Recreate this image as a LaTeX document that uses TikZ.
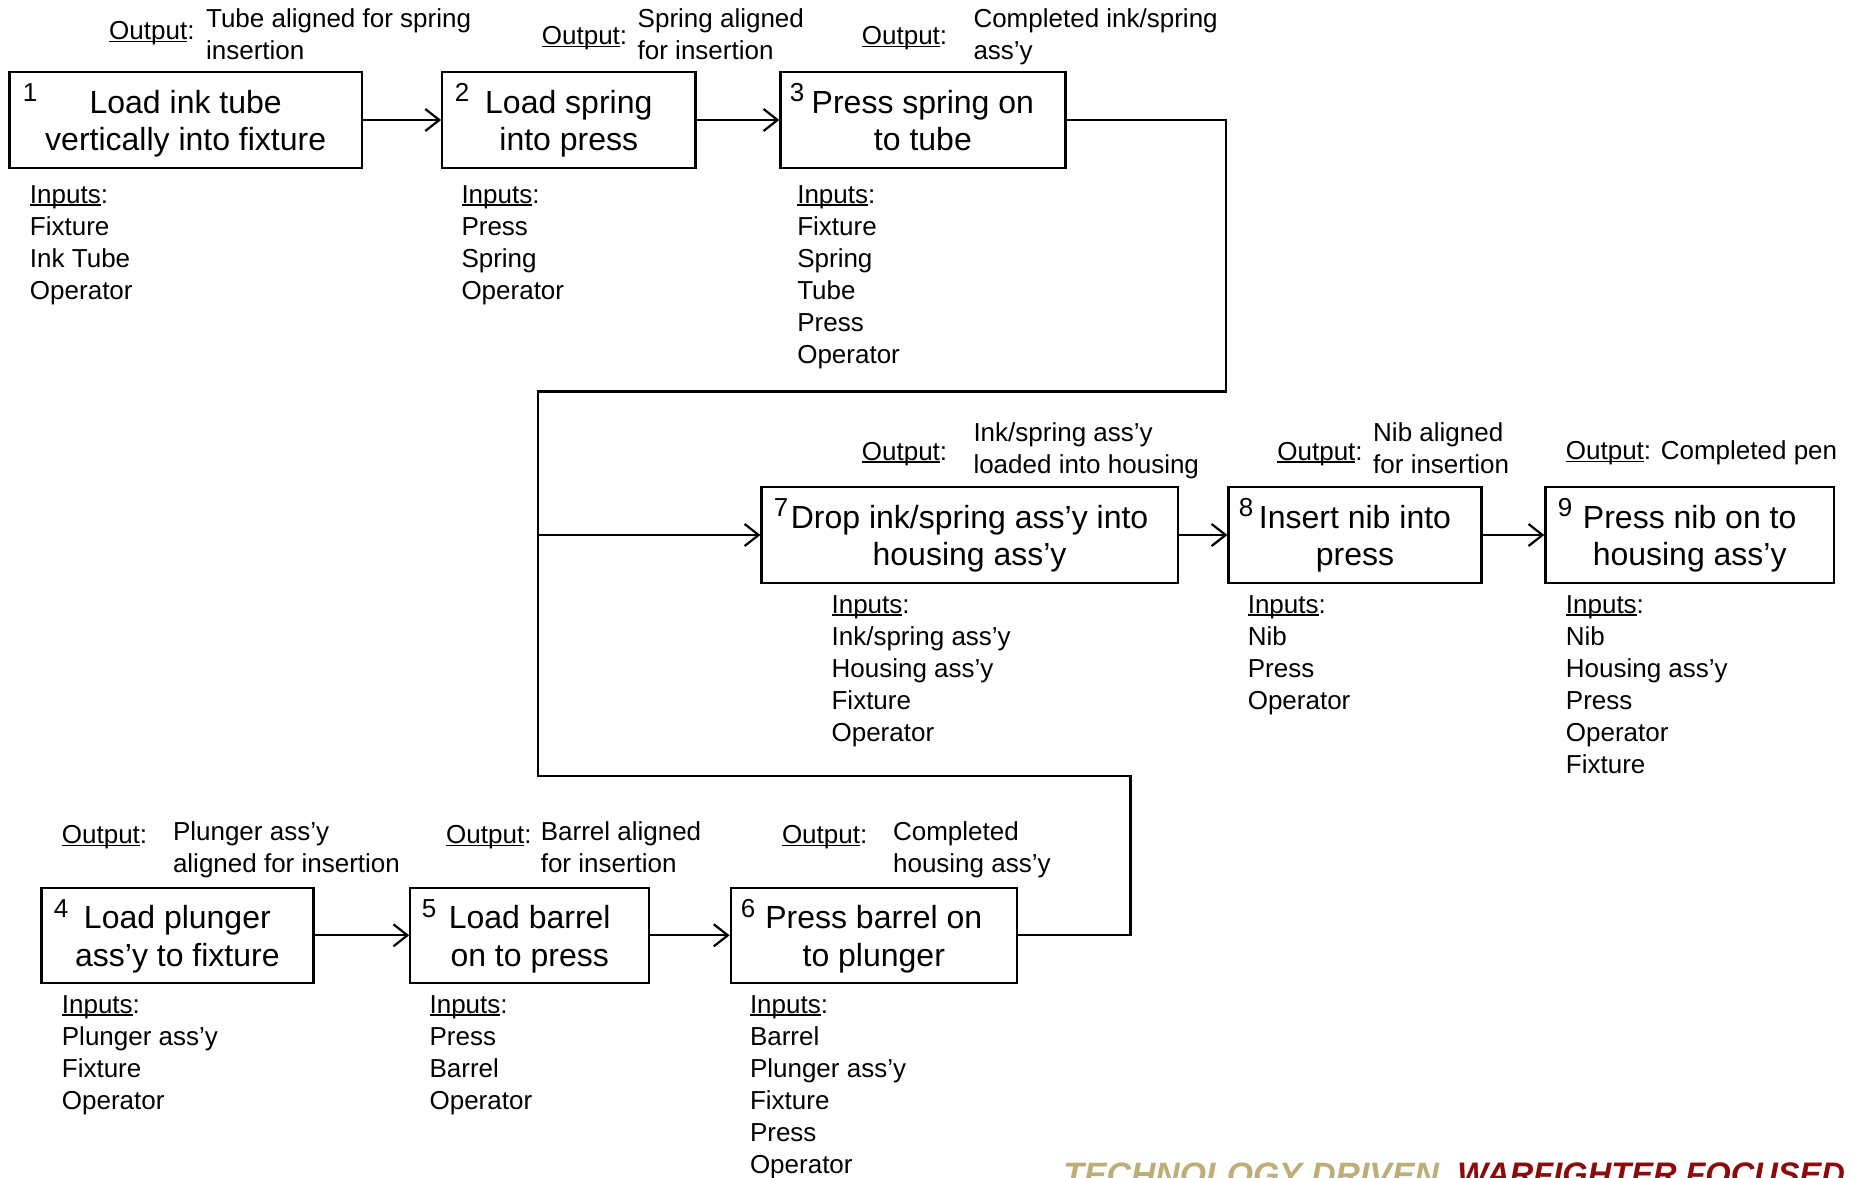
\documentclass[tikz,border=0pt]{standalone}
\usepackage{fontspec}
\setmainfont{Liberation Sans}
\usetikzlibrary{arrows.meta}
\definecolor{mottotan}{RGB}{189,174,120}
\definecolor{mottored}{RGB}{140,10,10}
% underline drawn close to the baseline
\newcommand\ulword[1]{\setbox0\hbox{#1}\rlap{\rule[-1.3pt]{\wd0}{0.7pt}}\box0}
% two centred lines with fixed line positions inside a step box
\newcommand\steptext[2]{\rule{0pt}{16.2pt}#1\\#2\rule[-4pt]{0pt}{4pt}}
\begin{document}
\begin{tikzpicture}[x=0.5pt,y=-0.5pt,
  stepbox/.style={draw, line width=1.1pt, minimum height=47.9pt, inner sep=0pt,
    align=center, font=\fontsize{16}{18.7}\selectfont},
  stepnum/.style={inner sep=0pt, font=\fontsize{13}{15}\selectfont},
  outlabel/.style={anchor=base west, inner sep=0pt, font=\fontsize{13}{16}\selectfont},
  outtext/.style={anchor=base west, inner sep=0pt, align=left, font=\fontsize{13}{16}\selectfont},
  inlist/.style={anchor=north west, inner sep=0pt, align=left, font=\fontsize{13}{16}\selectfont},
  flow/.style={line width=1.1pt},
  flowarrow/.style={line width=1.1pt, -{Straight Barb[length=7pt,width=11pt,line width=1.1pt]}},
]
\useasboundingbox (0,0) rectangle (1854,1178);
\clip (0,0) rectangle (1854,1178);
\fill[white] (0,0) rectangle (1854,1178);

% ---------- top row: steps 1-3 ----------
\node[stepbox, minimum width=176.2pt] (b1) at (185.7,120) {\steptext{Load ink tube}{vertically into fixture}};
\node[stepbox, minimum width=126.6pt] (b2) at (568.8,120) {\steptext{Load spring}{into press}};
\node[stepbox, minimum width=142.5pt] (b3) at (922.9,120) {\steptext{Press spring on}{to tube}};
\node[stepnum] (n1) at (30,92.5) {1};
\node[stepnum] (n2) at (462,92.5) {2};
\node[stepnum] (n3) at (797,92.5) {3};

% multi-line texts are placed by the baseline of their last line
\node[outlabel] (o1l) at (108.8,39.8) {\ulword{Output}:};
\node[outtext]  (o1t) at (205.7,59) {Tube aligned for spring\\insertion};
\node[outlabel] (o2l) at (541.5,44.5) {\ulword{Output}:};
\node[outtext]  (o2t) at (637.3,59) {Spring aligned\\for insertion};
\node[outlabel] (o3l) at (861.5,44.5) {\ulword{Output}:};
\node[outtext]  (o3t) at (973.1,59) {Completed ink/spring\\ass’y};

\node[inlist] (i1) at (29.6,185) {\ulword{Inputs}:\\Fixture\\Ink Tube\\Operator};
\node[inlist] (i2) at (461.1,185) {\ulword{Inputs}:\\Press\\Spring\\Operator};
\node[inlist] (i3) at (796.9,185) {\ulword{Inputs}:\\Fixture\\Spring\\Tube\\Press\\Operator};

% ---------- middle row: steps 7-9 ----------
\node[stepbox, minimum width=208.1pt] (b7) at (969.6,535) {\steptext{Drop ink/spring ass’y into}{housing ass’y}};
\node[stepbox, minimum width=126.5pt] (b8) at (1355,535) {\steptext{Insert nib into}{press}};
\node[stepbox, minimum width=144.3pt] (b9) at (1689.7,535) {\steptext{Press nib on to}{housing ass’y}};
\node[stepnum] (n7) at (781,507.5) {7};
\node[stepnum] (n8) at (1246,507.5) {8};
\node[stepnum] (n9) at (1565,507.5) {9};

\node[outlabel] (o7l) at (861.5,460) {\ulword{Output}:};
\node[outtext]  (o7t) at (973.1,473) {Ink/spring ass’y\\loaded into housing};
\node[outlabel] (o8l) at (1277,460) {\ulword{Output}:};
\node[outtext]  (o8t) at (1372.8,473) {Nib aligned\\for insertion};
\node[outlabel] (o9l) at (1565.5,459.5) {\ulword{Output}: Completed pen};

\node[inlist] (i7) at (831.2,595) {\ulword{Inputs}:\\Ink/spring ass’y\\Housing ass’y\\Fixture\\Operator};
\node[inlist] (i8) at (1247.4,595) {\ulword{Inputs}:\\Nib\\Press\\Operator};
\node[inlist] (i9) at (1565.5,595) {\ulword{Inputs}:\\Nib\\Housing ass’y\\Press\\Operator\\Fixture};

% ---------- bottom row: steps 4-6 ----------
\node[stepbox, minimum width=136pt, minimum height=47.3pt] (b4) at (177.4,935.3) {\steptext{Load plunger}{ass’y to fixture}};
\node[stepbox, minimum width=119.4pt, minimum height=47.3pt] (b5) at (529.7,935.3) {\steptext{Load barrel}{on to press}};
\node[stepbox, minimum width=143.1pt, minimum height=47.3pt] (b6) at (873.8,935.3) {\steptext{Press barrel on}{to plunger}};
\node[stepnum] (n4) at (61,908.5) {4};
\node[stepnum] (n5) at (429,908.5) {5};
\node[stepnum] (n6) at (748,908.5) {6};

\node[outlabel] (o4l) at (61.5,843.3) {\ulword{Output}:};
\node[outtext]  (o4t) at (172.6,872) {Plunger ass’y\\aligned for insertion};
\node[outlabel] (o5l) at (445.8,843.3) {\ulword{Output}:};
\node[outtext]  (o5t) at (540.4,872) {Barrel aligned\\for insertion};
\node[outlabel] (o6l) at (781.6,843.3) {\ulword{Output}:};
\node[outtext]  (o6t) at (892.7,872) {Completed\\housing ass’y};

\node[inlist] (i4) at (61.5,995) {\ulword{Inputs}:\\Plunger ass’y\\Fixture\\Operator};
\node[inlist] (i5) at (429.2,995) {\ulword{Inputs}:\\Press\\Barrel\\Operator};
\node[inlist] (i6) at (749.6,995) {\ulword{Inputs}:\\Barrel\\Plunger ass’y\\Fixture\\Press\\Operator};

% ---------- connectors ----------
\coordinate (turnA) at (1226.2,391.4);
\coordinate (turnB) at (538,391.4);
\coordinate (joint) at (538,535);
\coordinate (turnC) at (1130.4,775.7);
\coordinate (turnD) at (538,775.7);

\draw[flowarrow] (b1.east) -- (b2.west);
\draw[flowarrow] (b2.east) -- (b3.west);
\draw[flow] (b3.east) -| (turnA) -- (turnB) -- (joint);
\draw[flow] (b6.east) -| (turnC) -- (turnD) -- (joint);
\draw[flowarrow] (joint) -- (b7.west);
\draw[flowarrow] (b7.east) -- (b8.west);
\draw[flowarrow] (b8.east) -- (b9.west);
\draw[flowarrow] (b4.east) -- (b5.west);
\draw[flowarrow] (b5.east) -- (b6.west);

% ---------- motto along the lower edge ----------
\node[anchor=north west, inner sep=0pt, text=mottotan,
  font=\fontsize{16.9}{18}\selectfont\bfseries\itshape] (mottoA) at (1063,1162) {TECHNOLOGY DRIVEN.};
\node[anchor=north west, inner sep=0pt, text=mottored,
  font=\fontsize{16.3}{18}\selectfont\bfseries\itshape] (mottoB) at (1457,1162) {WARFIGHTER FOCUSED.};
\end{tikzpicture}
\end{document}
